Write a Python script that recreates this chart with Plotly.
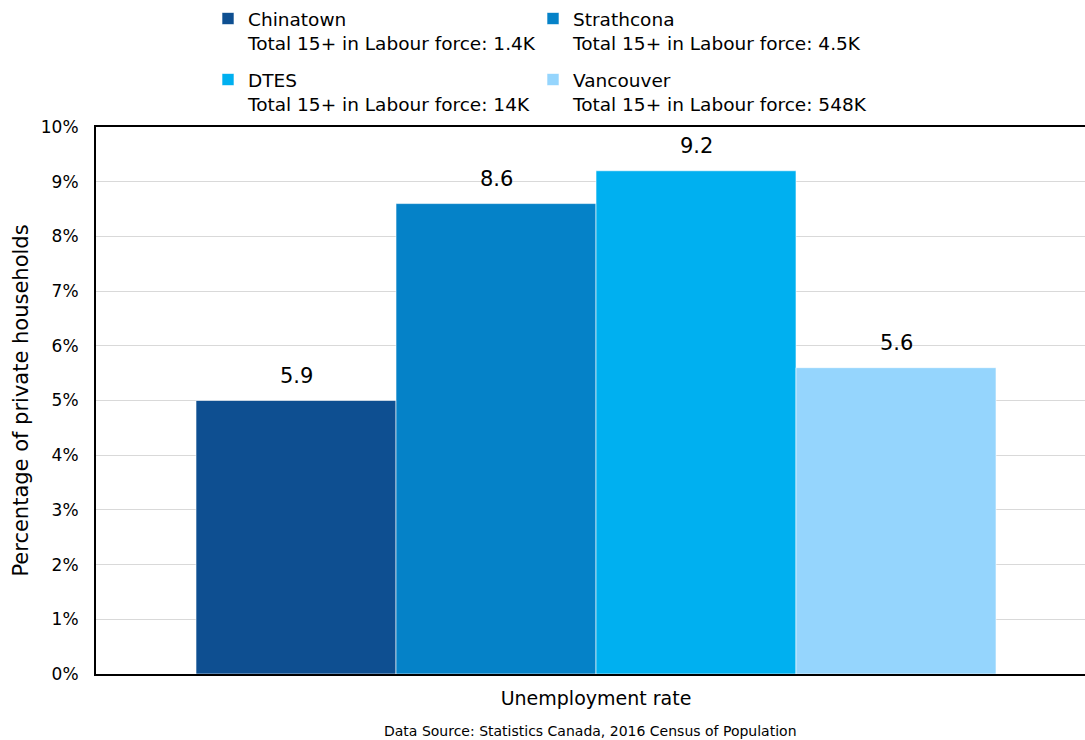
import plotly.graph_objects as go

categories = ["Unemployment rate"]
series_names = ["Chinatown", "Strathcona", "DTES", "Vancouver"]
labour_force = ["1.4K", "4.5K", "14K", "548K"]
bar_values = [5.0, 8.6, 9.2, 5.6]
label_texts = ["5.9", "8.6", "9.2", "5.6"]
colors = ["#0e4f91", "#0582c8", "#00b0f0", "#95d5fd"]
legend_ids = ["legend", "legend2", "legend3", "legend4"]

FONT = "DejaVu Sans"
BARGAP = 0.2
PLOT_W = 989
W, H = 1085, 740

fig = go.Figure()
for name, lf, v, c, lg in zip(series_names, labour_force, bar_values, colors, legend_ids):
    fig.add_trace(go.Bar(
        x=[0], y=[v], name=f"{name}<br>Total 15+ in Labour force: {lf}", legend=lg,
        marker=dict(color=c, line=dict(color="rgba(255,255,255,0.6)", width=1)),
    ))

n = len(bar_values)
slot = (1 - BARGAP) / n
annotations = []
for i, (v, t) in enumerate(zip(bar_values, label_texts)):
    annotations.append(dict(
        x=(i - (n - 1) / 2) * slot, y=v, xref="x", yref="y", text=t, showarrow=False,
        yshift=25, yanchor="middle", xanchor="center", font=dict(size=21, family=FONT, color="black"),
    ))
annotations.append(dict(
    text="Data Source: Statistics Canada, 2016 Census of Population",
    xref="paper", yref="paper", x=0.5, y=0.0, yshift=-57, xanchor="center", yanchor="middle",
    showarrow=False, font=dict(size=14, family=FONT),
))

legend_common = dict(
    orientation="h", xanchor="left", yanchor="top", yref="container",
    font=dict(size=18.5, family=FONT), bgcolor="rgba(0,0,0,0)",
    valign="top", itemclick=False, tracegroupgap=0,
)
col_x = [(208 - 96) / PLOT_W, (533 - 96) / PLOT_W]
row_y = [1.0, 1.0 - 61 / H]

layout_legends = {}
for k, lg in enumerate(legend_ids):
    layout_legends[lg] = dict(x=col_x[k % 2], y=row_y[k // 2], **legend_common)

fig.update_layout(
    width=W, height=H,
    margin=dict(l=96, r=0, t=127, b=66, autoexpand=False),
    plot_bgcolor="white", paper_bgcolor="white",
    font=dict(family=FONT, color="black"),
    barmode="group", bargap=BARGAP, bargroupgap=0,
    showlegend=True,
    xaxis=dict(
        range=[-0.5, 0.489], showline=True, linecolor="black", linewidth=2, mirror=True,
        tickfont=dict(size=19, family=FONT), ticks="", showgrid=False, zeroline=False,
        tickmode="array", tickvals=[0], ticktext=categories, ticklabelstandoff=6,
    ),
    yaxis=dict(
        range=[0, 10], dtick=1, ticksuffix="%", showline=True, linecolor="black", linewidth=2,
        gridcolor="#d9d9d9", gridwidth=1, tickfont=dict(size=17, family=FONT),
        ticklabelstandoff=12,
        title=dict(text="Percentage of private households", font=dict(size=21, family=FONT), standoff=6),
        zeroline=False,
    ),
    annotations=annotations,
    **layout_legends,
)

fig.write_html("out.html")
